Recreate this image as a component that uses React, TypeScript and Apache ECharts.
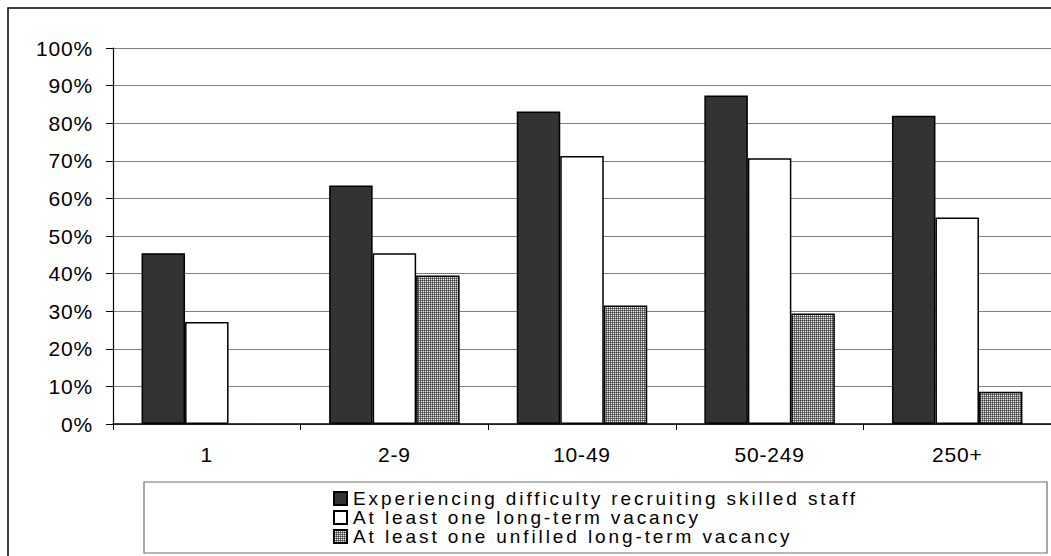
import React, { useEffect, useRef } from "react";
import * as echarts from "echarts";

const categories = ["1", "2-9", "10-49", "50-249", "250+"];
const difficultyRecruiting = [45.4, 63.4, 83.1, 87.4, 82.0];
const longTermVacancy = [27.1, 45.4, 71.3, 70.7, 54.9];
const unfilledLongTerm: (number | null)[] = [null, 39.5, 31.5, 29.4, 8.6];
const seriesNames = [
  "Experiencing difficulty recruiting skilled staff",
  "At least one long-term vacancy",
  "At least one unfilled long-term vacancy",
];
const yTicks = { min: 0, max: 100, interval: 10 };

function makePattern(): HTMLCanvasElement {
  const c = document.createElement("canvas");
  c.width = 2;
  c.height = 2;
  const ctx = c.getContext("2d")!;
  ctx.fillStyle = "#e6e6e6";
  ctx.fillRect(0, 0, 2, 2);
  ctx.fillStyle = "#7a7a7a";
  ctx.fillRect(0, 0, 2, 1);
  ctx.fillRect(0, 0, 1, 2);
  ctx.fillStyle = "#404040";
  ctx.fillRect(0, 0, 1, 1);
  return c;
}

function spaceLetters(root: HTMLElement) {
  root.querySelectorAll("text").forEach((t) => {
    const s = t.textContent || "";
    const spacing = s.length > 8 ? "2.9" : "0.8";
    t.setAttribute("letter-spacing", spacing);
  });
}

export default function App() {
  const ref = useRef<HTMLDivElement>(null);
  useEffect(() => {
    if (!ref.current) return;
    const el = ref.current;
    const chart = echarts.init(el, null, { renderer: "svg" });
    const font = "'Liberation Sans', Arial, sans-serif";
    const pattern = makePattern();
    const barBorder = { borderColor: "#000", borderWidth: 1.5 };
    chart.setOption({
      animation: false,
      backgroundColor: "#fff",
      textStyle: { fontFamily: font, color: "#000" },
      grid: { left: 113, top: 48, width: 945, height: 376 },
      graphic: [
        {
          type: "rect",
          shape: { x: 8, y: 8, width: 1100, height: 600 },
          style: { fill: "none", stroke: "#000", lineWidth: 1.5 },
          z: 0,
        },
        {
          type: "rect",
          shape: { x: 144, y: 482, width: 903, height: 71 },
          style: { fill: "#fff", stroke: "#6e6e6e", lineWidth: 1.2 },
          z: 0,
        },
      ],
      legend: {
        orient: "vertical",
        left: 333,
        top: 489,
        icon: "rect",
        itemWidth: 13,
        itemHeight: 13,
        itemGap: 0,
        padding: 0,
        textStyle: {
          fontFamily: font,
          fontSize: 19,
          lineHeight: 19,
          color: "#000",
          padding: [0, 0, 0, 1],
        },
        data: seriesNames,
      },
      xAxis: {
        type: "category",
        data: categories,
        axisLine: { lineStyle: { color: "#000", width: 1.5 } },
        axisTick: { show: true, length: 6, lineStyle: { color: "#000" } },
        axisLabel: { fontFamily: font, fontSize: 21, color: "#000", margin: 20 },
        splitLine: { show: false },
      },
      yAxis: {
        type: "value",
        min: yTicks.min,
        max: yTicks.max,
        interval: yTicks.interval,
        axisLine: { show: true, lineStyle: { color: "#000", width: 1.2 } },
        axisTick: { show: true, length: 7, lineStyle: { color: "#000" } },
        axisLabel: {
          fontFamily: font,
          fontSize: 21,
          color: "#000",
          margin: 20,
          formatter: "{value}%",
        },
        splitLine: { show: true, lineStyle: { color: "#808080", width: 1.2 } },
      },
      series: [
        {
          name: seriesNames[0],
          type: "bar",
          data: difficultyRecruiting,
          barWidth: 43.5,
          barGap: "0%",
          itemStyle: { color: "#333333", ...barBorder },
        },
        {
          name: seriesNames[1],
          type: "bar",
          data: longTermVacancy,
          barWidth: 43.5,
          barGap: "0%",
          itemStyle: { color: "#ffffff", ...barBorder },
        },
        {
          name: seriesNames[2],
          type: "bar",
          data: unfilledLongTerm,
          barWidth: 43.5,
          barGap: "0%",
          itemStyle: { color: { image: pattern, repeat: "repeat" }, ...barBorder },
        },
      ],
    });
    spaceLetters(el);
    const onFinished = () => spaceLetters(el);
    chart.on("finished", onFinished);
    const timer = window.setTimeout(() => spaceLetters(el), 50);
    return () => {
      window.clearTimeout(timer);
      chart.off("finished", onFinished);
      chart.dispose();
    };
  }, []);
  return (
    <div
      ref={ref}
      style={{ position: "fixed", left: 0, top: 0, width: 1051, height: 556 }}
    />
  );
}
